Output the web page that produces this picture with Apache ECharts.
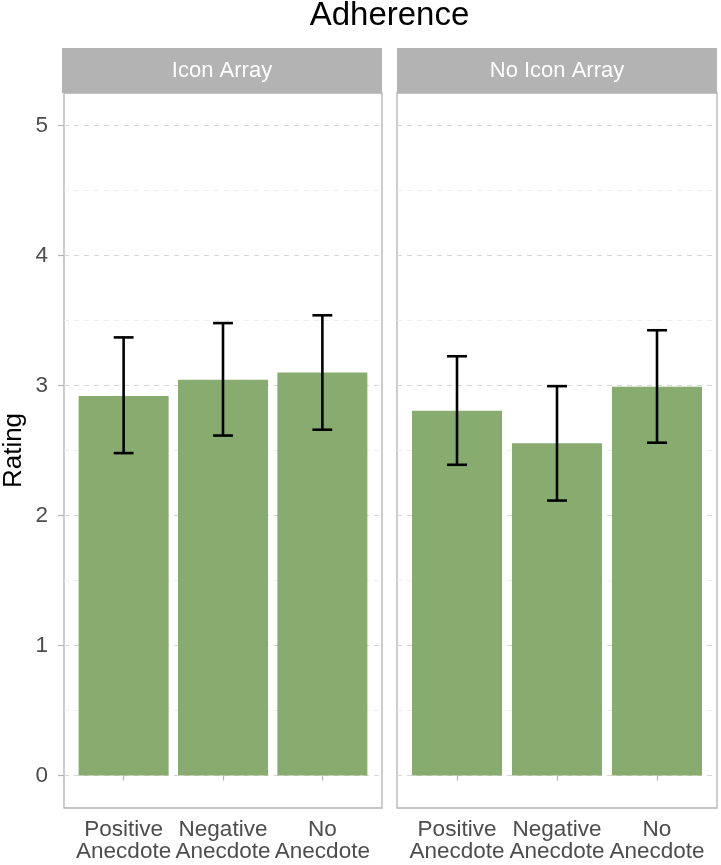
<!DOCTYPE html>
<html>
<head>
<meta charset="utf-8">
<script src="https://cdn.jsdelivr.net/npm/echarts@6/dist/echarts.min.js"></script>
<style>
html,body{margin:0;padding:0;background:#fff;}
#chart{width:721px;height:865px;}
</style>
</head>
<body>
<div id="chart"></div>
<script>
// ---- data ----
var chartTitle = 'Adherence';
var yTitle = 'Rating';
var panels = ['Icon Array', 'No Icon Array'];
var categories = ['Positive\nAnecdote', 'Negative\nAnecdote', 'No\nAnecdote'];
var iconMeans = [2.92, 3.045, 3.10];
var iconLower = [2.48, 2.615, 2.66];
var iconUpper = [3.37, 3.48, 3.54];
var noIconMeans = [2.805, 2.555, 2.99];
var noIconLower = [2.39, 2.115, 2.56];
var noIconUpper = [3.225, 2.995, 3.425];
var yTicks = [0, 1, 2, 3, 4, 5];
var yMinorTicks = [0.5, 1.5, 2.5, 3.5, 4.5];

// ---- layout ----
var FONT = 'Liberation Sans';
var gridTop = 93, gridHeight = 715, gridWidth = 320;
var gridLefts = [62, 397];
var stripH = 45;
var xMin = 0.4, xMax = 3.6;
var yMin = -0.25, yMax = 5.25;
var barW = 0.9 * gridWidth / (xMax - xMin);
var barColor = '#88AC6F';
var border = '#B3B3B3';

var means = [iconMeans, noIconMeans];
var lows = [iconLower, noIconLower];
var highs = [iconUpper, noIconUpper];
var xPos = categories.map(function (c, i) { return i + 1; });

var grids = [], xAxes = [], yAxes = [], series = [], graphics = [];

panels.forEach(function (p, k) {
  grids.push({
    left: gridLefts[k], top: gridTop, width: gridWidth, height: gridHeight,
    show: true, borderColor: border, borderWidth: 1.3, backgroundColor: '#fff',
    containLabel: false
  });
  xAxes.push({
    type: 'value', gridIndex: k, min: xMin, max: xMax,
    axisLine: { show: false },
    splitLine: { show: false },
    axisTick: { show: true, customValues: xPos, length: 5, lineStyle: { color: border, width: 1.2 } },
    axisLabel: {
      customValues: xPos, margin: 11, color: '#4D4D4D', fontFamily: FONT, fontSize: 22.5, lineHeight: 22,
      formatter: function (v) { return categories[Math.round(v) - 1] || ''; }
    }
  });
  yAxes.push({
    type: 'value', gridIndex: k, min: yMin, max: yMax,
    name: k === 0 ? yTitle : '', nameLocation: 'middle', nameGap: 37, nameRotate: 90,
    nameTextStyle: { fontFamily: FONT, fontSize: 26, color: '#000' },
    axisLine: { show: false },
    splitLine: { show: false },
    axisTick: { show: k === 0, customValues: yTicks, length: 6, lineStyle: { color: border, width: 1.2 } },
    axisLabel: { show: k === 0, customValues: yTicks, margin: 16, color: '#4D4D4D', fontFamily: FONT, fontSize: 22.5 }
  });
  // gridlines (behind bars)
  series.push({
    type: 'line', xAxisIndex: k, yAxisIndex: k, data: [], z: 1, silent: true,
    markLine: {
      z: 1, silent: true, symbol: 'none', animation: false, label: { show: false },
      data: yTicks.map(function (v) {
        return { yAxis: v, lineStyle: { color: '#D6D6D6', width: 1.1, type: [5, 5] } };
      }).concat(yMinorTicks.map(function (v) {
        return { yAxis: v, lineStyle: { color: '#EBEBEB', width: 0.9, type: [5, 5] } };
      }))
    }
  });
  series.push({
    type: 'bar', xAxisIndex: k, yAxisIndex: k, z: 3, barWidth: barW,
    itemStyle: { color: barColor },
    data: means[k].map(function (m, i) { return [xPos[i], m]; }),
    animation: false
  });
  series.push({
    type: 'custom', xAxisIndex: k, yAxisIndex: k, z: 4,
    data: means[k].map(function (m, i) { return [xPos[i], lows[k][i], highs[k][i]]; }),
    renderItem: function (params, api) {
      var x = api.value(0), lo = api.value(1), hi = api.value(2);
      var half = 0.1;
      var top = api.coord([x, hi]), bot = api.coord([x, lo]);
      var tl = api.coord([x - half, hi]), tr = api.coord([x + half, hi]);
      var bl = api.coord([x - half, lo]), br = api.coord([x + half, lo]);
      var st = { stroke: '#000', lineWidth: 2.6 };
      return {
        type: 'group', children: [
          { type: 'line', shape: { x1: top[0], y1: top[1], x2: bot[0], y2: bot[1] }, style: st },
          { type: 'line', shape: { x1: tl[0], y1: tl[1], x2: tr[0], y2: tr[1] }, style: st },
          { type: 'line', shape: { x1: bl[0], y1: bl[1], x2: br[0], y2: br[1] }, style: st }
        ]
      };
    },
    animation: false
  });
  // strip
  graphics.push({
    type: 'rect', shape: { x: gridLefts[k], y: gridTop - stripH, width: gridWidth, height: stripH },
    style: { fill: '#B3B3B3' }, z: 10
  });
  graphics.push({
    type: 'text', x: gridLefts[k] + gridWidth / 2, y: gridTop - stripH / 2, z: 11,
    style: { text: p, fill: '#fff', font: '22px "' + FONT + '"', align: 'center', verticalAlign: 'middle' }
  });
});

graphics.push({
  type: 'text', x: gridLefts[0] + (gridLefts[1] + gridWidth - gridLefts[0]) / 2, y: 16, z: 11,
  style: { text: chartTitle, fill: '#000', font: '33px "' + FONT + '"', align: 'center', verticalAlign: 'middle' }
});

var chart = echarts.init(document.getElementById('chart'), null, { renderer: 'canvas' });
chart.setOption({
  backgroundColor: '#fff',
  animation: false,
  grid: grids, xAxis: xAxes, yAxis: yAxes, series: series,
  graphic: graphics
});
</script>
</body>
</html>
